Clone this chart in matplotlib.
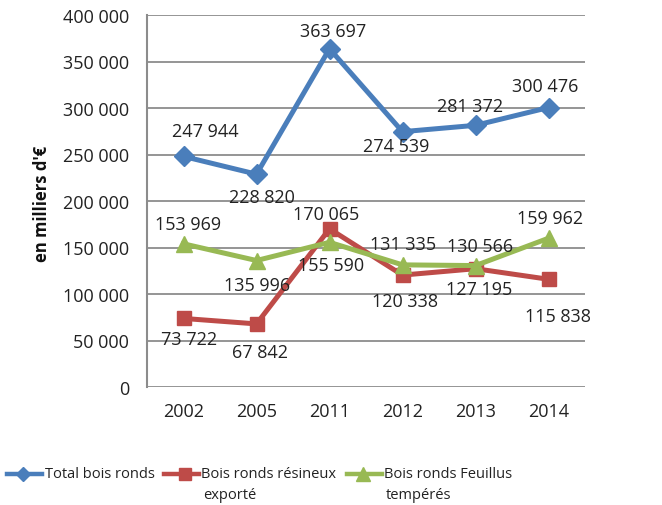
import matplotlib
matplotlib.use('Agg')
import matplotlib.pyplot as plt
from matplotlib.lines import Line2D
from matplotlib.ticker import FuncFormatter, MultipleLocator

plt.rcParams['font.family'] = ['Open Sans', 'DejaVu Sans']

annees = ['2002', '2005', '2011', '2012', '2013', '2014']
total = [247944, 228820, 363697, 274539, 281372, 300476]
resineux = [73722, 67842, 170065, 120338, 127195, 115838]
feuillus = [153969, 135996, 155590, 131335, 130566, 159962]

# decalage des etiquettes en pixels (dx, dy vers le bas)
off_total = [(22, -25), (5, 23), (4, -18), (-6, 14), (-5, -19), (-3, -22)]
off_resineux = [(6, 21), (4, 28), (-3, -15), (2, 26), (4, 20), (9, 37)]
off_feuillus = [(5, -20), (1, 24), (2, 23), (1, -21), (5, -20), (2, -20)]

bleu = '#4A7EBB'
rouge = '#BE4B48'
vert = '#98B954'
gris = '#8C8C8C'

W, H = 662, 506
fig = plt.figure(figsize=(W / 100, H / 100), dpi=100)
ax = fig.add_axes([147 / W, 1 - 388 / H, (585 - 147) / W, (388 - 16) / H])


def sep(v, pos=None):
    return '{:,}'.format(int(v)).replace(',', ' ')


x = list(range(len(annees)))
series = [
    (total, bleu, 'D', 10, off_total),
    (resineux, rouge, 's', 10, off_resineux),
    (feuillus, vert, '^', 11, off_feuillus),
]
for vals, col, mk, ms, offs in series:
    ax.plot(x, vals, color=col, lw=3.6, marker=mk, ms=ms, mec=col, mfc=col,
            zorder=3)
    for i, v in enumerate(vals):
        dx, dy = offs[i]
        ax.annotate(sep(v), (i, v), xytext=(dx * 0.72, -dy * 0.72),
                    textcoords='offset points', ha='center', va='center',
                    fontsize=13, color='#222222', zorder=4)

ax.set_xlim(-0.5, len(annees) - 0.5)
ax.set_ylim(0, 400000)
ax.yaxis.set_major_locator(MultipleLocator(50000))
ax.yaxis.set_major_formatter(FuncFormatter(sep))
ax.set_xticks(x)
ax.set_xticklabels(annees)
ax.tick_params(axis='both', length=0, labelsize=13, colors='#222222')
ax.tick_params(axis='y', pad=13)
ax.tick_params(axis='x', pad=11)
ax.grid(axis='y', color=gris, lw=1.3)
ax.set_axisbelow(True)
for s in ['top', 'right', 'bottom']:
    ax.spines[s].set_visible(False)
ax.spines['left'].set_color(gris)
ax.spines['left'].set_linewidth(1.5)

fig.text(42 / W, 1 - 204 / H, "en milliers d'€", rotation=90, ha='center',
         va='center', fontsize=12, fontweight='bold', color='#111111')

# legende en bas
leg = [
    (7, 42, 23, bleu, 'D', 7, 45, 'Total bois ronds', ''),
    (164, 199, 185, rouge, 's', 9, 201, 'Bois ronds résineux', 'exporté'),
    (347, 382, 363, vert, '^', 10, 384, 'Bois ronds Feuillus', 'tempérés'),
]
y1 = 1 - 475 / H
y2 = 1 - 496 / H
for x0, x1, xm, col, mk, ms, xt, l1, l2 in leg:
    fig.add_artist(Line2D([x0 / W, x1 / W], [y1, y1], color=col, lw=3.2,
                          transform=fig.transFigure))
    fig.add_artist(Line2D([xm / W], [y1], color=col, marker=mk, ms=ms,
                          transform=fig.transFigure))
    fig.text(xt / W, y1, l1, ha='left', va='center', fontsize=10.5,
             color='#222222')
    if l2:
        fig.text((xt + 2) / W, y2, l2, ha='left', va='center', fontsize=10.5,
                 color='#222222')

fig.savefig('out.png', dpi=100)
